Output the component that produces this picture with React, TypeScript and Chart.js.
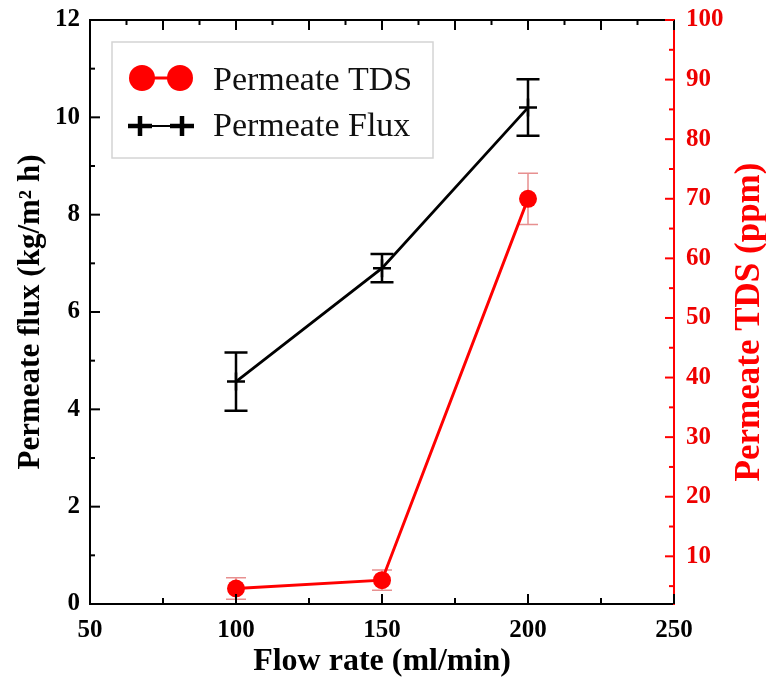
import React, { useEffect, useRef } from 'react';
import { Chart, registerables } from 'chart.js';

Chart.register(...registerables);

// ---- data ----
const flowRates = [100, 150, 200];
const fluxValues = [4.57, 6.9, 10.2];
const fluxErrors = [0.6, 0.29, 0.58];
const tdsValues = [4.6, 6.0, 70.0];
const tdsErrors = [1.8, 1.7, 4.3];
const seriesLabels = ['Permeate TDS', 'Permeate Flux'];
const xTitle = 'Flow rate (ml/min)';
const yTitle = 'Permeate flux (kg/m\u00B2 h)';
const y2Title = 'Permeate TDS (ppm)';

const RED = '#ff0000';
const FONT = '"Liberation Serif", "Times New Roman", serif';

const errorBarPlugin = {
  id: 'errorBars',
  beforeDatasetsDraw(chart: any) {
    const ctx = chart.ctx;
    chart.data.datasets.forEach((ds: any, i: number) => {
      const meta = chart.getDatasetMeta(i);
      const ys = chart.scales[ds.yAxisID];
      ctx.save();
      ctx.strokeStyle = ds.errorColor;
      ctx.lineWidth = ds.errorWidth;
      meta.data.forEach((pt: any, j: number) => {
        const v = ds.data[j].y;
        const e = ds.errors[j];
        const x = pt.x;
        const yt = ys.getPixelForValue(v + e);
        const yb = ys.getPixelForValue(v - e);
        ctx.beginPath();
        ctx.moveTo(x, yt);
        ctx.lineTo(x, yb);
        ctx.moveTo(x - ds.capHalf, yt);
        ctx.lineTo(x + ds.capHalf, yt);
        ctx.moveTo(x - ds.capHalf, yb);
        ctx.lineTo(x + ds.capHalf, yb);
        ctx.stroke();
      });
      ctx.restore();
    });
  },
};

const tickSpecs = [
  { id: 'x', side: 'bottom', major: 50, minor: 25, majLen: 10, minLen: 6, color: '#000' },
  { id: 'x', side: 'top', major: 25, minor: 12.5, majLen: 10, minLen: 5, color: '#000' },
  { id: 'y', side: 'left', major: 2, minor: 1, majLen: 10, minLen: 5, color: '#000' },
  { id: 'y2', side: 'right', major: 10, minor: 5, majLen: 9, minLen: 5, color: RED },
];

const frameTicksPlugin = {
  id: 'frameTicks',
  afterDraw(chart: any) {
    const ctx = chart.ctx;
    const a = chart.chartArea;
    ctx.save();
    // top frame line
    ctx.strokeStyle = '#000';
    ctx.lineWidth = 2;
    ctx.beginPath();
    ctx.moveTo(a.left - 1, a.top);
    ctx.lineTo(a.right, a.top);
    ctx.stroke();
    tickSpecs.forEach((s) => {
      const sc = chart.scales[s.id];
      ctx.strokeStyle = s.color;
      ctx.lineWidth = 2;
      const start = Math.ceil(sc.min / s.minor) * s.minor;
      for (let v = start; v <= sc.max + 1e-9; v += s.minor) {
        const isMajor = Math.abs(v / s.major - Math.round(v / s.major)) < 1e-6;
        const len = isMajor ? s.majLen : s.minLen;
        const p = sc.getPixelForValue(v);
        ctx.beginPath();
        if (s.side === 'bottom') { ctx.moveTo(p, a.bottom); ctx.lineTo(p, a.bottom - len); }
        if (s.side === 'top') { ctx.moveTo(p, a.top); ctx.lineTo(p, a.top + len); }
        if (s.side === 'left') { ctx.moveTo(a.left, p); ctx.lineTo(a.left + len, p); }
        if (s.side === 'right') { ctx.moveTo(a.right, p); ctx.lineTo(a.right - len, p); }
        ctx.stroke();
      }
    });
    // right axis title (reads bottom to top)
    ctx.fillStyle = RED;
    ctx.font = `bold 35px ${FONT}`;
    ctx.textAlign = 'center';
    ctx.textBaseline = 'middle';
    ctx.translate(750, (a.top + a.bottom) / 2 + 10);
    ctx.rotate(-Math.PI / 2);
    ctx.fillText(y2Title, 0, 0);
    ctx.restore();
  },
};

const legendPlugin = {
  id: 'customLegend',
  afterDraw(chart: any) {
    const ctx = chart.ctx;
    const ds = chart.data.datasets;
    ctx.save();
    ctx.fillStyle = '#fff';
    ctx.fillRect(112, 42, 321, 116);
    ctx.strokeStyle = '#d4d4d4';
    ctx.lineWidth = 1.5;
    ctx.strokeRect(112, 42, 321, 116);
    // row 1: red circles
    const y1 = 78;
    ctx.strokeStyle = RED;
    ctx.lineWidth = 3;
    ctx.beginPath();
    ctx.moveTo(142, y1);
    ctx.lineTo(180, y1);
    ctx.stroke();
    ctx.fillStyle = RED;
    [142, 180].forEach((x) => {
      ctx.beginPath();
      ctx.arc(x, y1, 13, 0, Math.PI * 2);
      ctx.fill();
    });
    // row 2: black crosses
    const y2 = 126;
    ctx.strokeStyle = '#000';
    ctx.lineWidth = 2;
    ctx.beginPath();
    ctx.moveTo(148, y2);
    ctx.lineTo(174, y2);
    ctx.stroke();
    ctx.lineWidth = 4.5;
    [140, 182].forEach((x) => {
      ctx.beginPath();
      ctx.moveTo(x - 12, y2);
      ctx.lineTo(x + 12, y2);
      ctx.moveTo(x, y2 - 10);
      ctx.lineTo(x, y2 + 10);
      ctx.stroke();
    });
    ctx.fillStyle = '#111';
    ctx.font = `34px ${FONT}`;
    ctx.textAlign = 'left';
    ctx.textBaseline = 'alphabetic';
    ctx.fillText(ds[0].label, 213, 90);
    ctx.fillText(ds[1].label, 213, 136);
    ctx.restore();
  },
};

const fitVertical = (w: number) => (s: any) => {
  s.width = w;
  s.paddingTop = 0;
  s.paddingBottom = 0;
};

export default function App() {
  const ref = useRef<HTMLCanvasElement | null>(null);

  useEffect(() => {
    const canvas = ref.current;
    if (!canvas) return;
    const tickFont = { family: FONT, size: 25, weight: 'bold' as const };
    const chart = new Chart(canvas, {
      type: 'line',
      data: {
        datasets: [
          {
            label: seriesLabels[0],
            data: flowRates.map((x, i) => ({ x, y: tdsValues[i] })),
            yAxisID: 'y2',
            borderColor: RED,
            backgroundColor: RED,
            borderWidth: 3,
            pointStyle: 'circle',
            pointRadius: 9,
            pointBorderWidth: 0,
            pointBackgroundColor: RED,
            errors: tdsErrors,
            errorColor: 'rgba(215,70,70,0.6)',
            errorWidth: 1.5,
            capHalf: 10,
          } as any,
          {
            label: seriesLabels[1],
            data: flowRates.map((x, i) => ({ x, y: fluxValues[i] })),
            yAxisID: 'y',
            borderColor: '#000',
            backgroundColor: '#000',
            borderWidth: 2.8,
            pointStyle: 'cross',
            pointRadius: 9,
            pointBorderWidth: 2.5,
            pointBorderColor: '#000',
            errors: fluxErrors,
            errorColor: '#000',
            errorWidth: 2.5,
            capHalf: 11.5,
          } as any,
        ],
      },
      options: {
        responsive: false,
        animation: false,
        devicePixelRatio: 1,
        layout: { padding: { top: 20, left: 0, right: 0, bottom: 0 } },
        plugins: { legend: { display: false }, tooltip: { enabled: false } },
        scales: {
          x: {
            type: 'linear',
            position: 'bottom',
            min: 50,
            max: 250,
            afterFit: (s: any) => { s.height = 78; s.paddingLeft = 0; s.paddingRight = 0; },
            ticks: { stepSize: 50, font: tickFont, color: '#000', padding: 12, maxRotation: 0 },
            grid: { display: false, drawTicks: false },
            border: { display: true, color: '#000', width: 2 },
            title: {
              display: true,
              text: xTitle,
              font: { family: FONT, size: 32, weight: 'bold' },
              color: '#000',
              padding: { top: 0, bottom: 1 },
            },
          },
          y: {
            type: 'linear',
            position: 'left',
            min: 0,
            max: 12,
            afterFit: fitVertical(90),
            ticks: { stepSize: 2, font: tickFont, color: '#000', padding: 10 },
            grid: { display: false, drawTicks: false },
            border: { display: true, color: '#000', width: 2 },
            title: {
              display: true,
              text: yTitle,
              font: { family: FONT, size: 31, weight: 'bold' },
              color: '#000',
              padding: { top: 12, bottom: 0 },
            },
          },
          y2: {
            type: 'linear',
            position: 'right',
            min: 2,
            max: 100,
            afterFit: fitVertical(92),
            afterBuildTicks: (s: any) => {
              s.ticks = s.ticks.filter((t: any) => t.value % 10 === 0);
            },
            ticks: { stepSize: 10, font: { family: FONT, size: 25, weight: 'bold' }, color: '#ee0000', padding: 12 },
            grid: { display: false, drawTicks: false },
            border: { display: true, color: RED, width: 2 },
          },
        },
      } as any,
      plugins: [errorBarPlugin, frameTicksPlugin, legendPlugin],
    });
    return () => chart.destroy();
  }, []);

  return (
    <div style={{ position: 'fixed', left: 0, top: 0, width: 766, height: 682, background: '#fff' }}>
      <canvas ref={ref} width={766} height={682} style={{ display: 'block' }} />
    </div>
  );
}
